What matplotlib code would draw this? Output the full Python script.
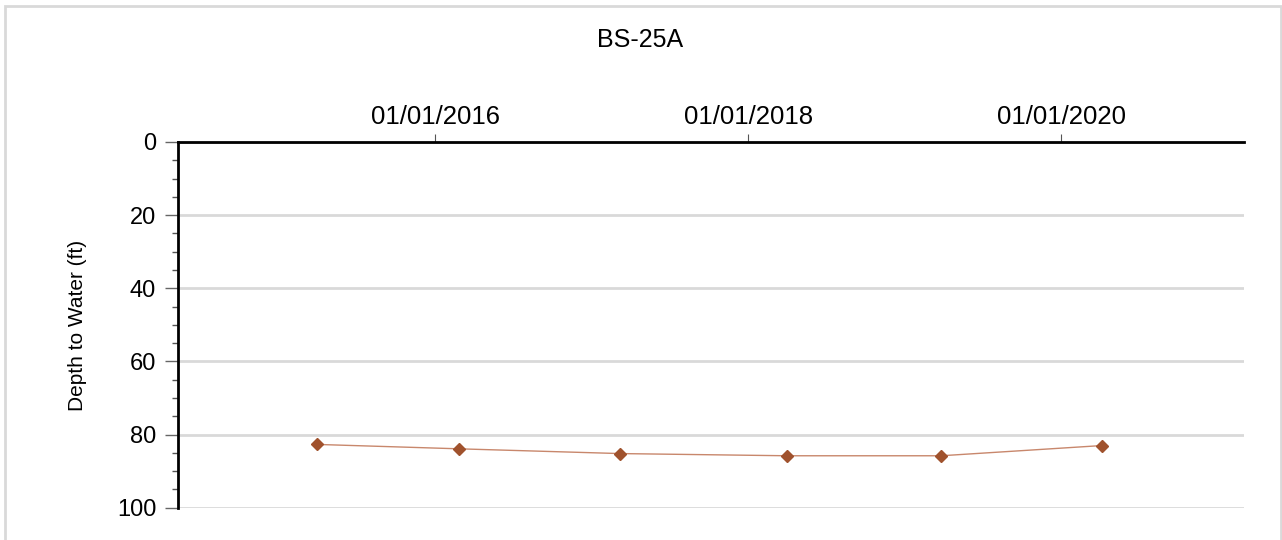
import matplotlib
matplotlib.use("Agg")
import matplotlib.pyplot as plt
import matplotlib.dates as mdates
from matplotlib.ticker import MultipleLocator
from matplotlib.patches import Rectangle
import datetime as dt

plt.rcParams['font.family'] = ['Liberation Sans', 'DejaVu Sans']

# Data
title = "BS-25A"
y_label = "Depth to Water (ft)"
dates = ["2015-04-01", "2016-02-26", "2017-03-08", "2018-04-02", "2019-03-27", "2020-04-06"]
depths = [82.7, 83.9, 85.2, 85.8, 85.8, 83.0]
x_ticks = ["2016-01-01", "2018-01-01", "2020-01-01"]
x_range = ["2014-05-10", "2021-03-03"]
y_range = [100, 0]

to_dt = lambda s: dt.datetime.strptime(s, "%Y-%m-%d")
xd = [to_dt(d) for d in dates]

fig = plt.figure(figsize=(12.82, 5.40), dpi=100)
fig.patch.set_facecolor('white')

# figure border (light gray, open at the bottom)
W, H = 1282, 540
fig.add_artist(Rectangle((5 / W, -0.05), (1280.5 - 5) / W, 1 - 6 / H + 0.05,
                         transform=fig.transFigure, fill=False,
                         edgecolor='#d9d9d9', linewidth=2))

left, right = 177.7 / W, 1244 / W
top, bottom = 1 - 142 / H, 1 - 507.7 / H
ax = fig.add_axes([left, bottom, right - left, top - bottom])

ax.plot(xd, depths, color='#c8876c', linewidth=1.0, zorder=3)
ax.plot(xd, depths, linestyle='none', marker='D', markersize=6,
        color='#a0522d', zorder=4)

ax.set_xlim(to_dt(x_range[0]), to_dt(x_range[1]))
ax.set_ylim(*y_range)

# x axis on top
ax.xaxis.tick_top()
ax.set_xticks([to_dt(t) for t in x_ticks])
ax.xaxis.set_major_formatter(mdates.DateFormatter('%m/%d/%Y'))
ax.tick_params(axis='x', which='major', direction='out', length=6, width=0.8,
               color='#555555', labelsize=18.5, pad=3)

# y axis
ax.yaxis.set_major_locator(MultipleLocator(20))
ax.yaxis.set_minor_locator(MultipleLocator(5))
ax.tick_params(axis='y', which='major', direction='out', length=9.5, width=1.0,
               color='#666666', labelsize=17, pad=6)
ax.tick_params(axis='y', which='minor', direction='out', length=4.5, width=1.0,
               color='#555555')

ax.grid(axis='y', which='major', color='#d9d9d9', linewidth=2, zorder=0)
ax.set_axisbelow(True)

for s in ['right', 'bottom']:
    ax.spines[s].set_visible(False)
for s in ['left', 'top']:
    ax.spines[s].set_color('black')
    ax.spines[s].set_linewidth(2)

ax.set_ylabel(y_label, fontsize=15)
ax.yaxis.set_label_coords((87 - 177.7) / (1244 - 177.7), 1 - (325 - 142) / (507.7 - 142))

fig.text(640 / W, 1 - 40 / H, title, ha='center', va='center', fontsize=18)

fig.savefig("out.png", dpi=100)
